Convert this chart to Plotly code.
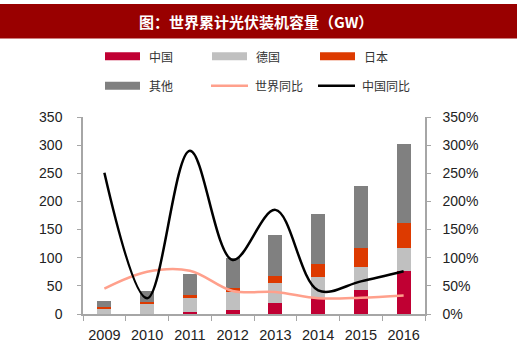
import plotly.graph_objects as go

years = ["2009", "2010", "2011", "2012", "2013", "2014", "2015", "2016"]
china = [0.3, 0.8, 3.3, 7.0, 19.0, 28.0, 43.0, 77.0]
germany = [9.8, 17.2, 25.0, 32.7, 36.0, 38.0, 40.0, 41.0]
japan = [2.6, 3.6, 5.0, 6.6, 13.0, 22.0, 34.0, 43.0]
other = [10.3, 19.4, 38.4, 52.7, 72.0, 89.0, 110.0, 141.0]
world_yoy = [45, 75, 77, 41, 39, 28, 29, 33]
china_yoy = [251, 28, 290, 96, 185, 42, 58, 76]

left_ticks = [0, 50, 100, 150, 200, 250, 300, 350]
right_ticks = [0, 50, 100, 150, 200, 250, 300, 350]
right_labels = ["0%", "50%", "100%", "150%", "200%", "250%", "300%", "350%"]

c_china = "#C00033"
c_germany = "#C0C0C0"
c_japan = "#DD3A00"
c_other = "#808080"
c_world = "#FFA08C"
c_cyoy = "#000000"

fig = go.Figure()
bw = 0.33
for name, vals, col in [("中国", china, c_china), ("德国", germany, c_germany),
                        ("日本", japan, c_japan), ("其他", other, c_other)]:
    fig.add_trace(go.Bar(x=years, y=vals, name=name, marker=dict(color=col, line=dict(width=0)),
                         width=bw, showlegend=False))

fig.add_trace(go.Scatter(x=years, y=world_yoy, name="世界同比", yaxis="y2", mode="lines",
                         line=dict(color=c_world, width=2.5, shape="spline", smoothing=1),
                         showlegend=False))
fig.add_trace(go.Scatter(x=years, y=china_yoy, name="中国同比", yaxis="y2", mode="lines",
                         line=dict(color=c_cyoy, width=2.5, shape="spline", smoothing=1),
                         showlegend=False))

axis_col = "#A6A6A6"
tick_font = dict(family="Liberation Sans, Arial, sans-serif", size=14, color="#222222")
xtick_font = dict(family="Liberation Sans, Arial, sans-serif", size=14.5, color="#222222")

PL, PR, PT, PB = 83, 425, 116.7, 316.7


def py(ypix):
    return (PB - ypix) / (PB - PT)


def px(xpix):
    return (xpix - PL) / (PR - PL)


shapes = [dict(type="rect", xref="paper", yref="paper", x0=px(0), x1=px(517),
               y0=py(37), y1=py(2), line=dict(width=0), fillcolor="#990000", layer="below")]

annotations = [dict(text="<b>图：世界累计光伏装机容量（GW）</b>", xref="paper", yref="paper",
                    x=px(256), y=py(19.5), showarrow=False, xanchor="center", yanchor="middle",
                    font=dict(family="Noto Sans CJK SC", size=15, color="white"))]

legend_items = [
    ("中国", "bar", c_china, 105, 55),
    ("德国", "bar", c_germany, 212, 55),
    ("日本", "bar", c_japan, 320, 55),
    ("其他", "bar", c_other, 105, 85),
    ("世界同比", "line", c_world, 211, 85),
    ("中国同比", "line", c_cyoy, 318, 85),
]
for text, kind, col, x0, yc in legend_items:
    if kind == "bar":
        shapes.append(dict(type="rect", xref="paper", yref="paper", x0=px(x0), x1=px(x0 + 35),
                           y0=py(yc + 4), y1=py(yc - 4), line=dict(width=0), fillcolor=col))
    else:
        shapes.append(dict(type="line", xref="paper", yref="paper", x0=px(x0), x1=px(x0 + 37),
                           y0=py(yc), y1=py(yc), line=dict(color=col, width=2.5)))
    annotations.append(dict(text=text, xref="paper", yref="paper", x=px(x0 + 42), y=py(yc),
                            showarrow=False, xanchor="left", yanchor="middle",
                            font=dict(family="Noto Sans CJK SC", size=12, color="#333333")))

fig.update_layout(
    width=520, height=355,
    margin=dict(l=PL, r=520 - PR, t=PT, b=355 - PB, pad=0),
    paper_bgcolor="white", plot_bgcolor="white",
    barmode="stack", showlegend=False,
    xaxis=dict(type="category", range=[-0.5, 7.5], showgrid=False, showline=True, linecolor=axis_col,
               linewidth=1.5, ticks="outside", tickson="boundaries", ticklen=5, tickcolor=axis_col,
               tickfont=xtick_font, zeroline=False, ticklabelstandoff=7),
    yaxis=dict(range=[0, 350], tickvals=left_ticks, showgrid=False, showline=True, linecolor=axis_col,
               linewidth=1.5, ticks="outside", ticklen=4, tickcolor=axis_col, tickfont=tick_font,
               zeroline=False, ticklabelstandoff=12),
    yaxis2=dict(range=[0, 350], tickmode="array", tickvals=right_ticks, ticktext=right_labels,
                overlaying="y", side="right",
                showgrid=False, showline=True, linecolor=axis_col, linewidth=1.5, ticks="outside",
                ticklen=4, tickcolor=axis_col, tickfont=tick_font, zeroline=False, ticklabelstandoff=9),
    shapes=shapes, annotations=annotations,
)

fig.write_html("out.html", config={"displayModeBar": False},
               post_script="document.body.style.margin='0';")
